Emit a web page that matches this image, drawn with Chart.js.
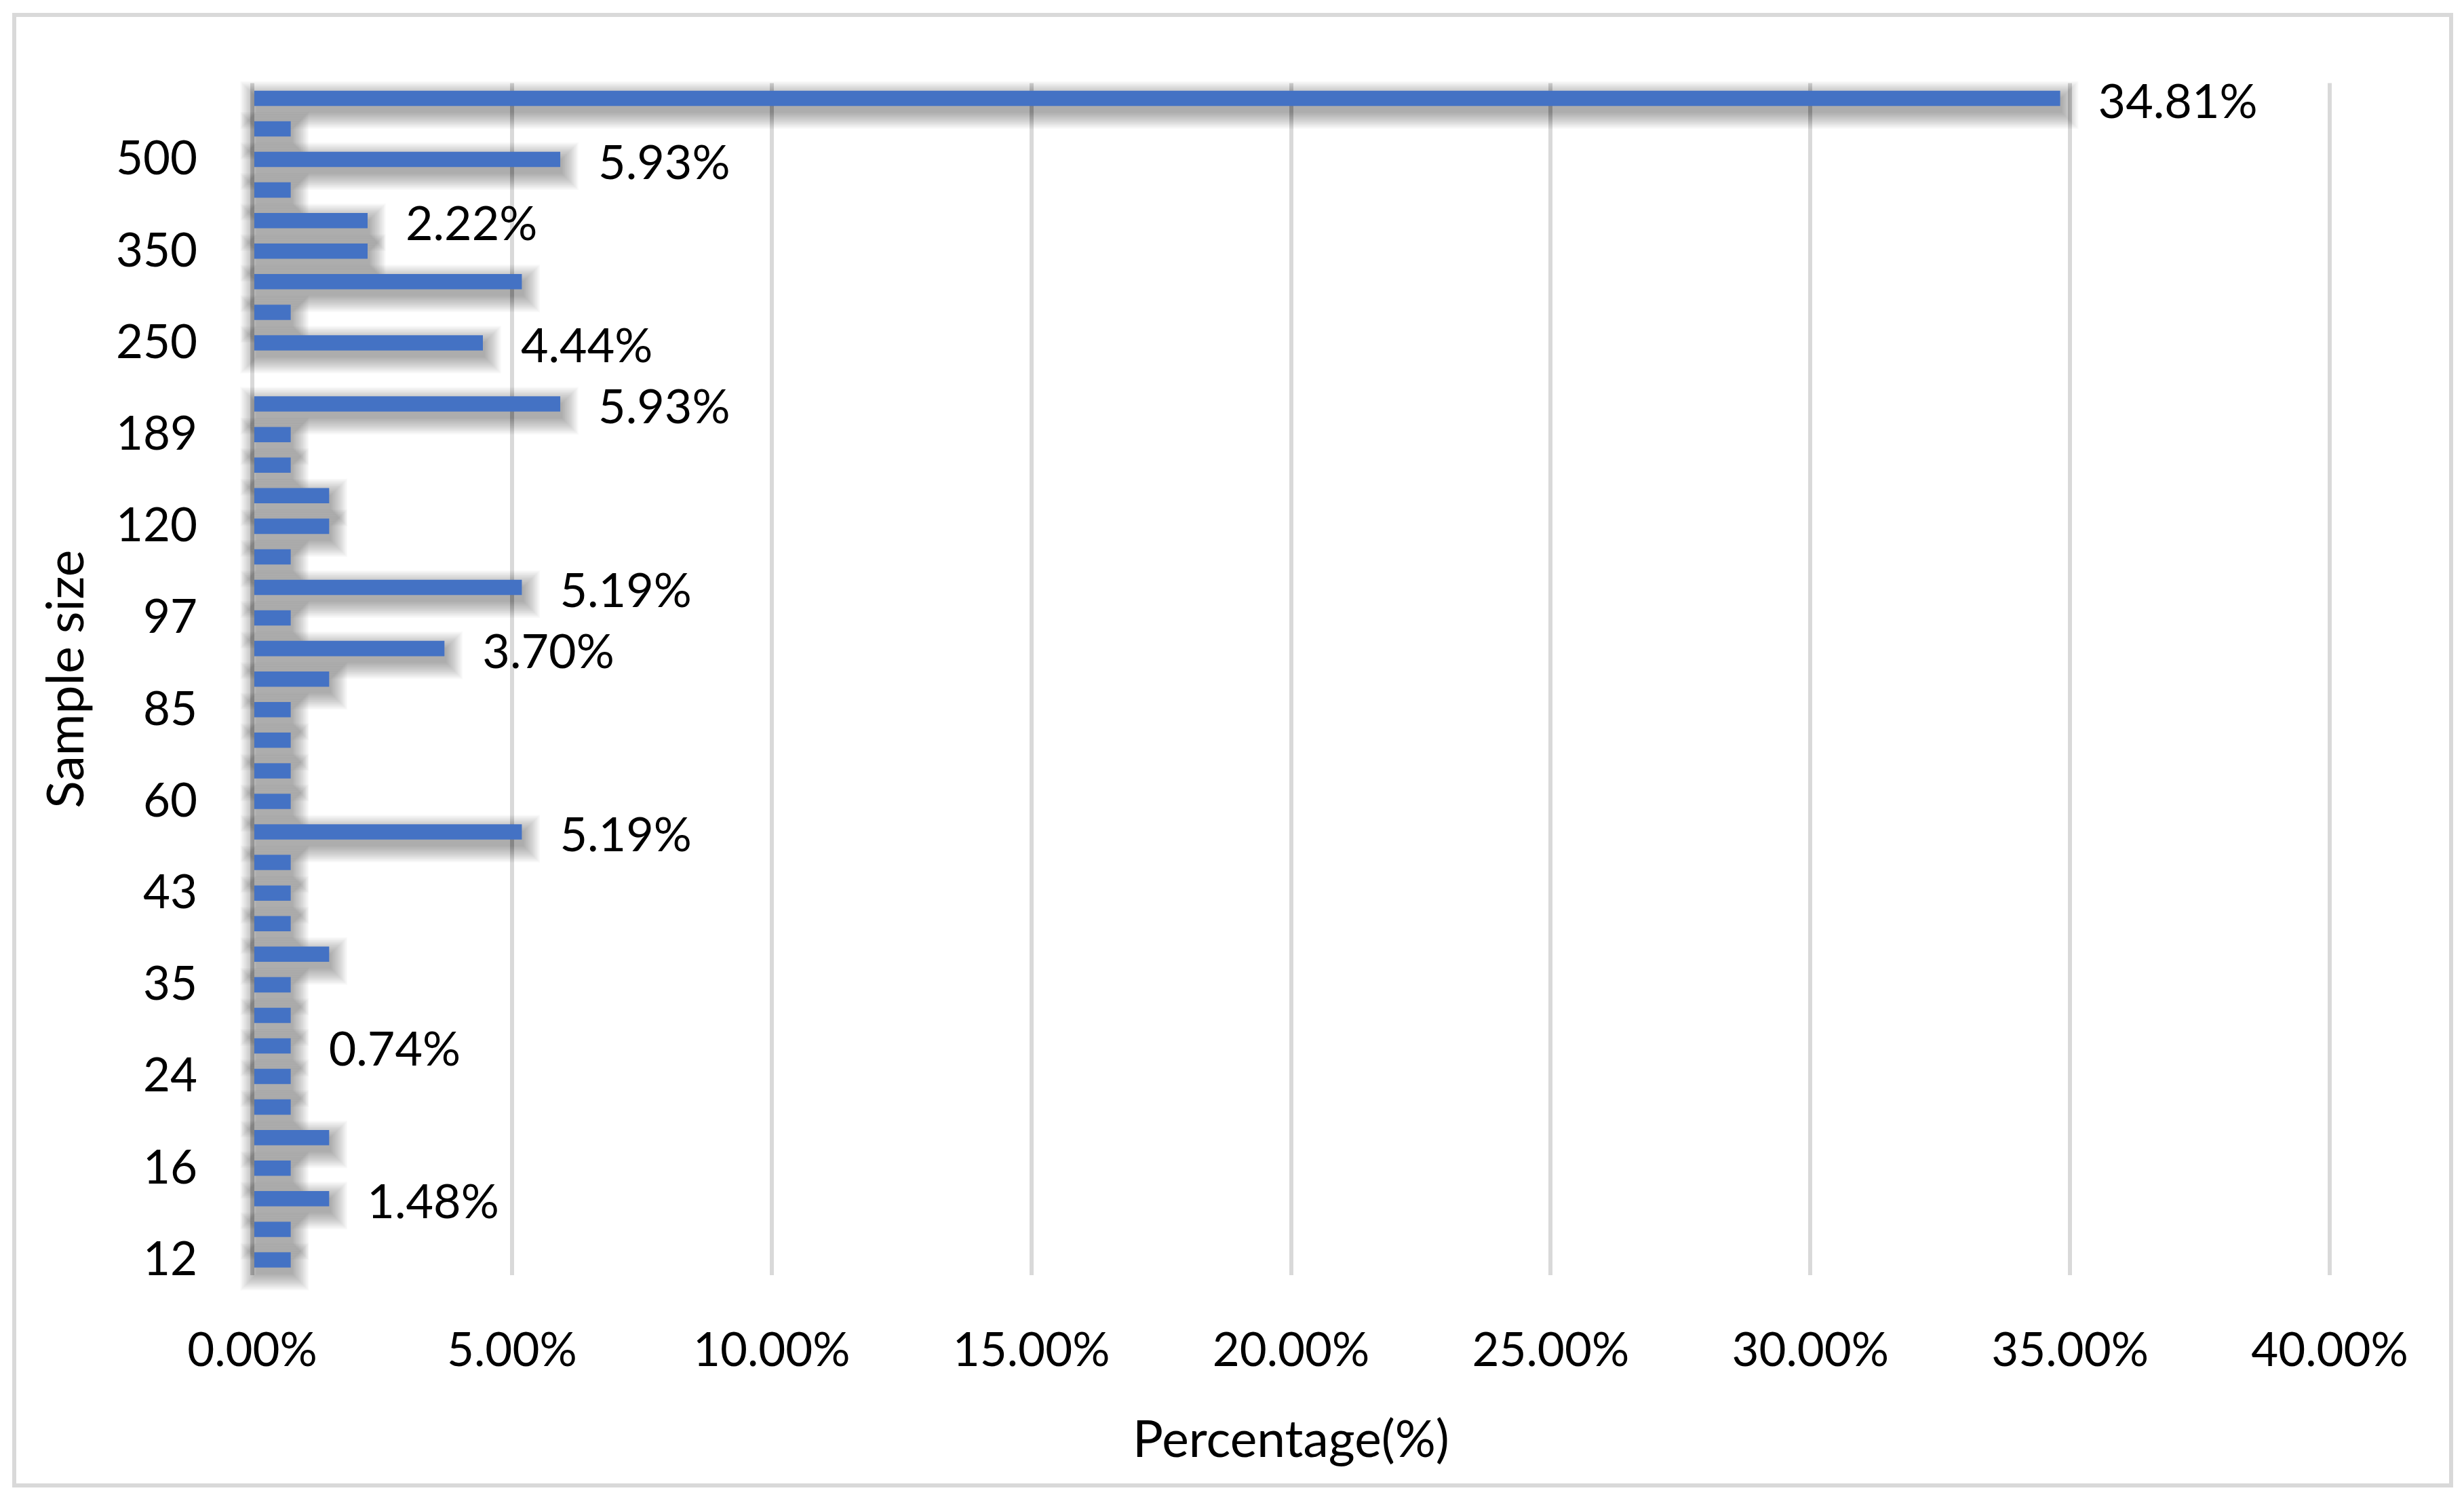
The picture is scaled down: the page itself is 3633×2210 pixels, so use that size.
<!DOCTYPE html>
<html>
<head>
<meta charset="utf-8">
<script src="https://cdn.jsdelivr.net/npm/chart.js@4.4.1/dist/chart.umd.min.js"></script>
<style>
  html, body { margin: 0; padding: 0; background: #fff; }
  #marco {
    position: absolute; left: 18px; top: 19px; width: 3599px; height: 2174px;
    border: 6px solid #d9d9d9; box-sizing: border-box;
  }
  #grafica { position: absolute; left: 0; top: 0; }
</style>
</head>
<body>
<div id="marco"></div>
<canvas id="grafica" width="3633" height="2210"></canvas>
<script>
// Categorías de abajo hacia arriba (solo se leen una de cada tres en la imagen)
const tamanos = [
  "12", "", "", "16", "", "", "24", "", "", "35", "", "",
  "43", "", "", "60", "", "", "85", "", "", "97", "", "",
  "120", "", "", "189", "", "", "250", "", "", "350", "", "",
  "500", "", ""
];

// Porcentajes (%) en el mismo orden
const porcentajes = [
  0.74, 0.74, 1.48, 0.74, 1.48, 0.74, 0.74, 0.74, 0.74, 0.74, 1.48, 0.74,
  0.74, 0.74, 5.19, 0.74, 0.74, 0.74, 0.74, 1.48, 3.70, 0.74, 5.19, 0.74,
  1.48, 1.48, 0.74, 0.74, 5.93, 0, 4.44, 0.74, 5.19, 2.22, 2.22, 0.74,
  5.93, 0.74, 34.81
];

// Barras que llevan etiqueta de valor
const barrasConEtiqueta = [2, 7, 14, 20, 22, 28, 30, 34, 36, 38];

// Ticks del eje x
const ejeXMin = 0;
const ejeXMax = 40;
const ejeXPaso = 5;

Chart.defaults.font.family = "Lato";
Chart.defaults.color = "#000";

// Sombra difusa bajo cada barra (efecto de Excel), hecha con capas translúcidas
const sombraBarras = {
  id: "sombraBarras",
  beforeDatasetsDraw(chart) {
    const ctx = chart.ctx;
    const meta = chart.getDatasetMeta(0);
    ctx.save();
    ctx.fillStyle = "rgba(0,0,0,0.022)";
    meta.data.forEach((barra, i) => {
      if (!porcentajes[i]) return;
      const izq = Math.min(barra.base, barra.x) + 3;
      const der = Math.max(barra.base, barra.x) + 3;
      const arriba = barra.y - barra.height / 2 + 10;
      const abajo = barra.y + barra.height / 2 + 10;
      for (let k = 0; k < 18; k++) {
        const e = k * 1.4;
        ctx.fillRect(izq - e, arriba - e, der - izq + 2 * e, abajo - arriba + 2 * e);
      }
    });
    ctx.restore();
  }
};

// Etiquetas de valor a la derecha de algunas barras
const etiquetasValor = {
  id: "etiquetasValor",
  afterDatasetsDraw(chart) {
    const ctx = chart.ctx;
    const meta = chart.getDatasetMeta(0);
    ctx.save();
    ctx.font = "70px Lato";
    ctx.fillStyle = "#000";
    ctx.textAlign = "left";
    ctx.textBaseline = "middle";
    barrasConEtiqueta.forEach((i) => {
      const barra = meta.data[i];
      ctx.fillText(porcentajes[i].toFixed(2) + "%", barra.x + 56, barra.y + 6);
    });
    ctx.restore();
  }
};

const ctx = document.getElementById("grafica").getContext("2d");
new Chart(ctx, {
  type: "bar",
  data: {
    labels: tamanos,
    datasets: [
      {
        data: porcentajes,
        backgroundColor: "#4472C4",
        borderWidth: 0,
        categoryPercentage: 1,
        barPercentage: 0.5,
      },
    ],
  },
  options: {
    indexAxis: "y",
    responsive: false,
    animation: false,
    layout: { padding: { left: 50, top: 120, right: 198, bottom: 37 } },
    plugins: {
      legend: { display: false },
      tooltip: { enabled: false },
    },
    scales: {
      x: {
        min: ejeXMin,
        max: ejeXMax,
        ticks: {
          stepSize: ejeXPaso,
          padding: 70,
          font: { size: 69 },
          color: "#000",
          callback: (v) => v.toFixed(2) + "%",
        },
        grid: { color: "#d9d9d9", lineWidth: 6, drawTicks: false },
        border: { display: false },
        title: {
          display: true,
          text: "Percentage(%)",
          font: { size: 75 },
          color: "#000",
          padding: { top: 4, bottom: 4 },
        },
        afterFit: (escala) => { escala.height = 293; },
      },
      y: {
        reverse: true,
        ticks: {
          autoSkip: false,
          padding: 81,
          font: { size: 69 },
          color: "#000",
        },
        grid: { display: false, drawTicks: false },
        border: { display: false },
        title: {
          display: true,
          text: "Sample size",
          font: { size: 75 },
          color: "#000",
          padding: { top: 4, bottom: 4 },
        },
        afterFit: (escala) => { escala.width = 322; },
      },
    },
  },
  plugins: [sombraBarras, etiquetasValor],
});
</script>
</body>
</html>
